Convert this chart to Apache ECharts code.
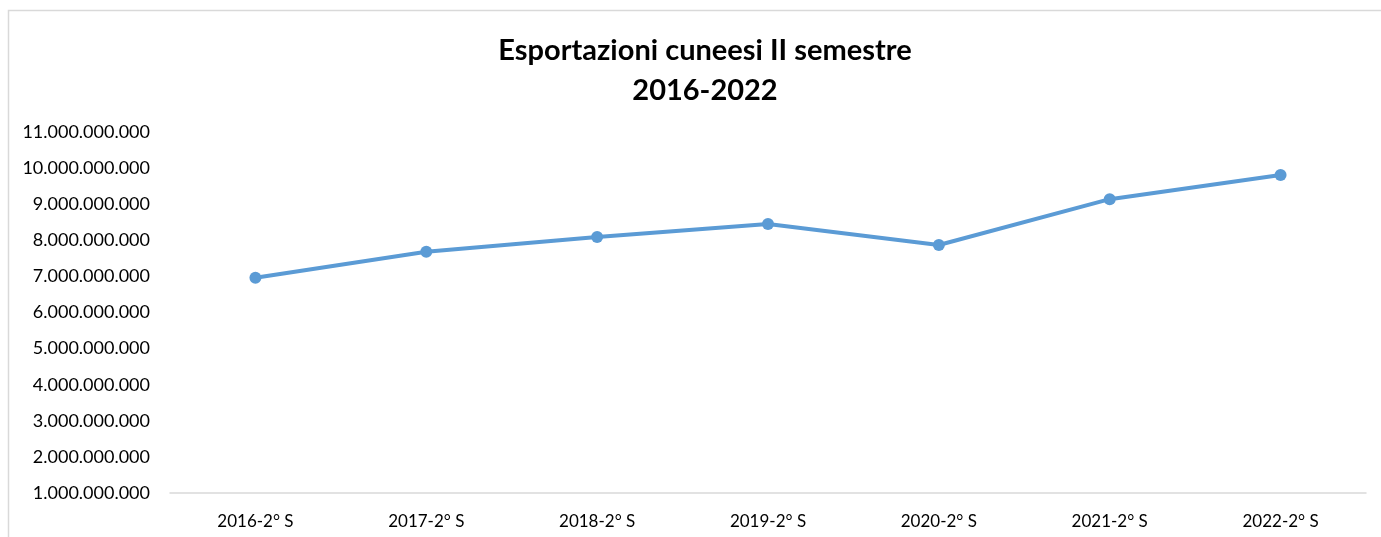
<!DOCTYPE html>
<html>
<head>
<meta charset="utf-8">
<script src="https://cdn.jsdelivr.net/npm/echarts@6/dist/echarts.min.js"></script>
<style>
  html, body { margin: 0; padding: 0; background: #fff; }
  #chart { width: 1381px; height: 537px; }
</style>
</head>
<body>
<div id="chart"></div>
<script>
const categories = ["2016-2° S", "2017-2° S", "2018-2° S", "2019-2° S", "2020-2° S", "2021-2° S", "2022-2° S"];
const exportValues = [6960000000, 7680000000, 8090000000, 8450000000, 7870000000, 9140000000, 9810000000];
const titleLines = ["Esportazioni cuneesi II semestre", "2016-2022"];

const fmt = (v) => String(Math.round(v)).replace(/\B(?=(\d{3})+(?!\d))/g, ".");

const myChart = echarts.init(document.getElementById("chart"));
const option = {
  animation: false,
  backgroundColor: "#ffffff",
  title: {
    text: titleLines.join("\n"),
    left: 700,
    textAlign: "center",
    top: 26,
    textStyle: {
      fontFamily: "Lato",
      fontWeight: "bold",
      fontSize: 29,
      lineHeight: 40,
      color: "#000000",
    },
  },
  graphic: [
    {
      type: "rect",
      shape: { x: 8.5, y: 10.5, width: 1500, height: 700 },
      style: { fill: "none", stroke: "#d9d9d9", lineWidth: 1.5 },
      silent: true,
    },
  ],
  grid: { left: 170, right: 15, top: 132, bottom: 44, containLabel: false },
  xAxis: {
    type: "category",
    data: categories,
    axisLine: { show: true, lineStyle: { color: "#d9d9d9", width: 1.5 } },
    axisTick: { show: false },
    axisLabel: { color: "#000", fontFamily: "Lato", fontSize: 17, margin: 20 },
    splitLine: { show: false },
  },
  yAxis: {
    type: "value",
    min: 1000000000,
    max: 11000000000,
    interval: 1000000000,
    axisLine: { show: false },
    axisTick: { show: false },
    splitLine: { show: false },
    axisLabel: {
      color: "#000",
      fontFamily: "Lato",
      fontSize: 18,
      margin: 20,
      formatter: fmt,
    },
  },
  series: [
    {
      type: "line",
      data: exportValues,
      symbol: "circle",
      symbolSize: 12,
      lineStyle: { color: "#5b9bd5", width: 4 },
      itemStyle: { color: "#5b9bd5" },
    },
  ],
};
myChart.setOption(option);
</script>
</body>
</html>
